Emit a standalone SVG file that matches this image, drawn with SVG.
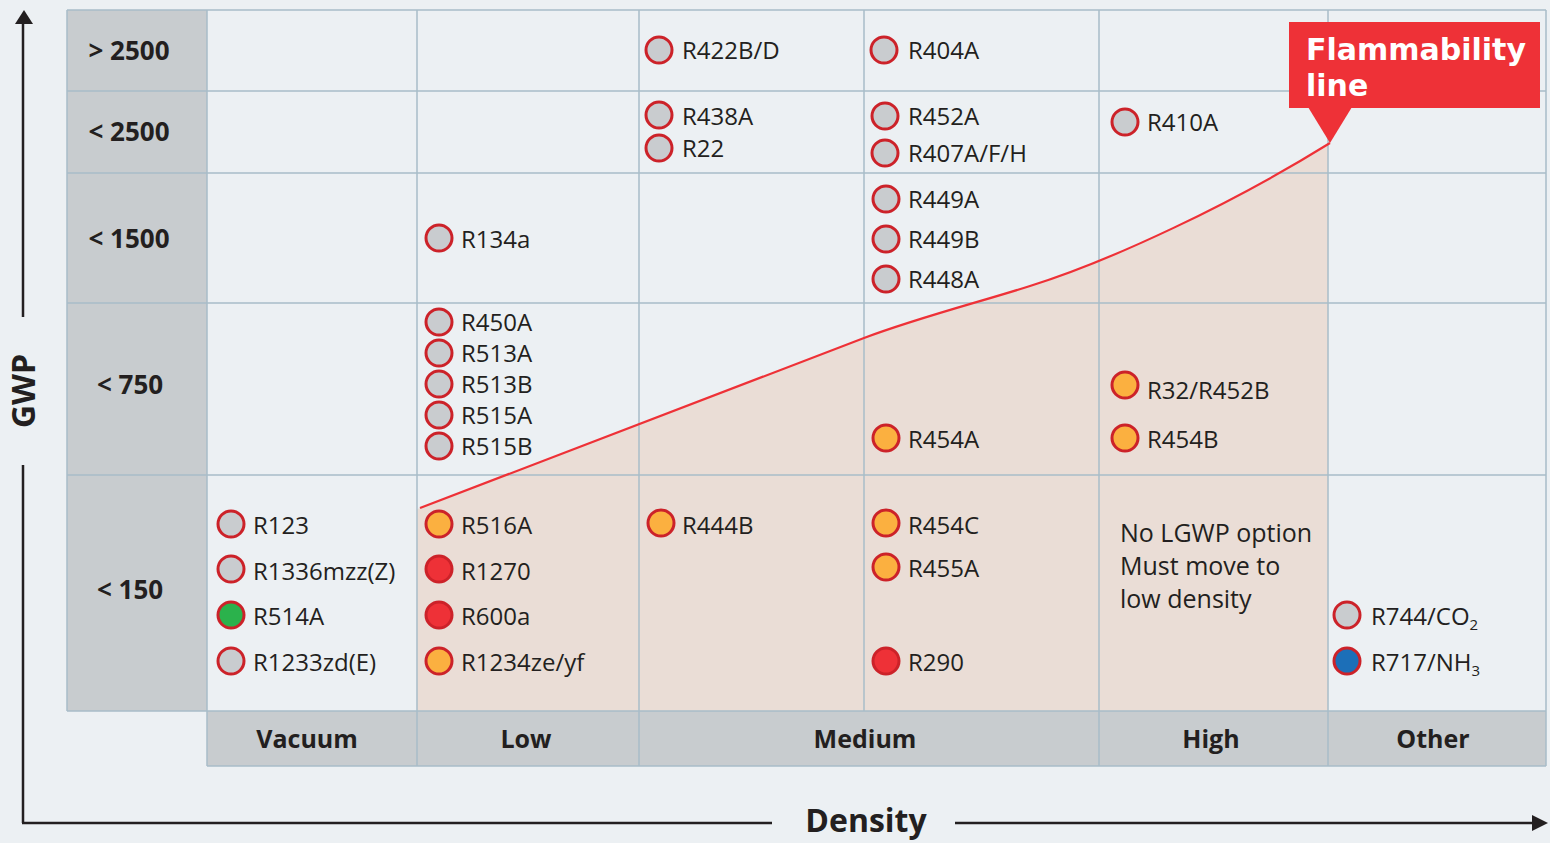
<svg xmlns="http://www.w3.org/2000/svg" width="1550" height="843" viewBox="0 0 1550 843">
<style>
.lbl{font-family:"Open Sans","Noto Sans","Liberation Sans",sans-serif;font-size:24px;fill:#231F20}
.hdr{font-family:"Open Sans","Noto Sans","Liberation Sans",sans-serif;font-size:25px;font-weight:bold;fill:#231F20}
.rowh{font-size:26px}
.ax{font-family:"Open Sans","Noto Sans","Liberation Sans",sans-serif;font-size:32px;font-weight:bold;fill:#231F20}
.note{font-family:"Open Sans","Noto Sans","Liberation Sans",sans-serif;font-size:25px;fill:#231F20}
.grid line{stroke:#A9BDC8;stroke-width:1.5}
.c{stroke:#CC2229;stroke-width:3}
.gray{fill:#C9CCCF}
.orange{fill:#FBB040}
.red{fill:#EE3137}
.green{fill:#2BB24C}
.blue{fill:#1C6FB8}
.axline{stroke:#231F20;stroke-width:2.5;fill:none}
</style>
<rect x="0" y="0" width="1550" height="843" fill="#ECF0F3"/>

<g id="headers">
<rect x="67" y="10" width="140" height="701" fill="#C8CCCF"/>
<rect x="207" y="711" width="1339" height="55" fill="#C8CCCF"/>
</g>

<g id="flammable-zone">
<path d="M417,509 L420,508 L864,338 C920,317 980,302 1030,286 C1110,261 1230,205 1328,144 L1328,711 L417,711 Z" fill="#EADDD6"/>
</g>

<g id="grid" class="grid">
<line x1="67" y1="10" x2="1546" y2="10"/>
<line x1="67" y1="91" x2="1546" y2="91"/>
<line x1="67" y1="173" x2="1546" y2="173"/>
<line x1="67" y1="303" x2="1546" y2="303"/>
<line x1="67" y1="475" x2="1546" y2="475"/>
<line x1="67" y1="711" x2="1546" y2="711"/>
<line x1="207" y1="766" x2="1546" y2="766"/>
<line x1="67" y1="10" x2="67" y2="711"/>
<line x1="207" y1="10" x2="207" y2="766"/>
<line x1="417" y1="10" x2="417" y2="766"/>
<line x1="639" y1="10" x2="639" y2="766"/>
<line x1="864" y1="10" x2="864" y2="711"/>
<line x1="1099" y1="10" x2="1099" y2="766"/>
<line x1="1328" y1="10" x2="1328" y2="766"/>
<line x1="1546" y1="10" x2="1546" y2="766"/>
</g>

<g id="row-labels">
<text class="hdr rowh" x="129" y="60" text-anchor="middle">&gt; 2500</text>
<text class="hdr rowh" x="129" y="141" text-anchor="middle">&lt; 2500</text>
<text class="hdr rowh" x="129" y="248" text-anchor="middle">&lt; 1500</text>
<text class="hdr rowh" x="130" y="394" text-anchor="middle">&lt; 750</text>
<text class="hdr rowh" x="130" y="599" text-anchor="middle">&lt; 150</text>
</g>

<g id="col-labels">
<text class="hdr" x="307" y="748" text-anchor="middle">Vacuum</text>
<text class="hdr" x="526" y="748" text-anchor="middle">Low</text>
<text class="hdr" x="865" y="748" text-anchor="middle">Medium</text>
<text class="hdr" x="1211" y="748" text-anchor="middle">High</text>
<text class="hdr" x="1433" y="748" text-anchor="middle">Other</text>
</g>

<g id="connectors">
<path id="flammability-line" d="M420,508 L864,338 C920,317 980,302 1030,286 C1110,261 1230,205 1330,143" fill="none" stroke="#EE3137" stroke-width="2.2"/>
</g>

<g id="flammability-label">
<rect x="1289" y="22" width="251" height="86" fill="#EE3137"/>
<polygon points="1308,107 1352,107 1330,143" fill="#EE3137"/>
<text x="1306" y="60" font-family="'DejaVu Sans','Liberation Sans',sans-serif" font-size="30" font-weight="bold" fill="#FFFFFF">Flammability</text>
<text x="1306" y="96" font-family="'DejaVu Sans','Liberation Sans',sans-serif" font-size="30" font-weight="bold" fill="#FFFFFF">line</text>
</g>

<g id="axes">
<line class="axline" x1="23" y1="823" x2="23" y2="465"/>
<line class="axline" x1="23" y1="317" x2="23" y2="22"/>
<polygon points="24,10 15,24 33,24" fill="#231F20"/>
<line class="axline" x1="22" y1="823" x2="772" y2="823"/>
<line class="axline" x1="955" y1="823" x2="1534" y2="823"/>
<polygon points="1548,823 1532,815 1532,831" fill="#231F20"/>
<text class="ax" x="866" y="832" text-anchor="middle">Density</text>
<text class="ax" x="35" y="391" text-anchor="middle" transform="rotate(-90 35 391)">GWP</text>
</g>

<g id="R422BD"><circle class="c gray" cx="659" cy="50" r="13"/><text class="lbl" x="682" y="59">R422B/D</text></g>
<g id="R404A"><circle class="c gray" cx="884" cy="50" r="13"/><text class="lbl" x="908" y="59">R404A</text></g>
<g id="R438A"><circle class="c gray" cx="659" cy="115" r="13"/><text class="lbl" x="682" y="125">R438A</text></g>
<g id="R22"><circle class="c gray" cx="659" cy="148" r="13"/><text class="lbl" x="682" y="157">R22</text></g>
<g id="R452A"><circle class="c gray" cx="885" cy="116" r="13"/><text class="lbl" x="908" y="125">R452A</text></g>
<g id="R407AFH"><circle class="c gray" cx="885" cy="153" r="13"/><text class="lbl" x="908" y="162">R407A/F/H</text></g>
<g id="R410A"><circle class="c gray" cx="1125" cy="122" r="13"/><text class="lbl" x="1147" y="131">R410A</text></g>

<g id="R134a"><circle class="c gray" cx="439" cy="238" r="13"/><text class="lbl" x="461" y="248">R134a</text></g>
<g id="R449A"><circle class="c gray" cx="886" cy="199" r="13"/><text class="lbl" x="908" y="208">R449A</text></g>
<g id="R449B"><circle class="c gray" cx="886" cy="239" r="13"/><text class="lbl" x="908" y="248">R449B</text></g>
<g id="R448A"><circle class="c gray" cx="886" cy="279" r="13"/><text class="lbl" x="908" y="288">R448A</text></g>

<g id="R450A"><circle class="c gray" cx="439" cy="322" r="13"/><text class="lbl" x="461" y="331">R450A</text></g>
<g id="R513A"><circle class="c gray" cx="439" cy="353" r="13"/><text class="lbl" x="461" y="362">R513A</text></g>
<g id="R513B"><circle class="c gray" cx="439" cy="384" r="13"/><text class="lbl" x="461" y="393">R513B</text></g>
<g id="R515A"><circle class="c gray" cx="439" cy="415" r="13"/><text class="lbl" x="461" y="424">R515A</text></g>
<g id="R515B"><circle class="c gray" cx="439" cy="446" r="13"/><text class="lbl" x="461" y="455">R515B</text></g>
<g id="R32R452B"><circle class="c orange" cx="1125" cy="385" r="13"/><text class="lbl" x="1147" y="399">R32/R452B</text></g>
<g id="R454A"><circle class="c orange" cx="886" cy="438" r="13"/><text class="lbl" x="908" y="448">R454A</text></g>
<g id="R454B"><circle class="c orange" cx="1125" cy="438" r="13"/><text class="lbl" x="1147" y="448">R454B</text></g>

<g id="R123"><circle class="c gray" cx="231" cy="524" r="13"/><text class="lbl" x="253" y="534">R123</text></g>
<g id="R1336mzzZ"><circle class="c gray" cx="231" cy="569" r="13"/><text class="lbl" x="253" y="580">R1336mzz(Z)</text></g>
<g id="R514A"><circle class="c green" cx="231" cy="615" r="13"/><text class="lbl" x="253" y="625">R514A</text></g>
<g id="R1233zdE"><circle class="c gray" cx="231" cy="661" r="13"/><text class="lbl" x="253" y="671">R1233zd(E)</text></g>
<g id="R516A"><circle class="c orange" cx="439" cy="524" r="13"/><text class="lbl" x="461" y="534">R516A</text></g>
<g id="R1270"><circle class="c red" cx="439" cy="569" r="13"/><text class="lbl" x="461" y="580">R1270</text></g>
<g id="R600a"><circle class="c red" cx="439" cy="615" r="13"/><text class="lbl" x="461" y="625">R600a</text></g>
<g id="R1234zeyf"><circle class="c orange" cx="439" cy="661" r="13"/><text class="lbl" x="461" y="671">R1234ze/yf</text></g>
<g id="R444B"><circle class="c orange" cx="661" cy="523" r="13"/><text class="lbl" x="682" y="534">R444B</text></g>
<g id="R454C"><circle class="c orange" cx="886" cy="523" r="13"/><text class="lbl" x="908" y="534">R454C</text></g>
<g id="R455A"><circle class="c orange" cx="886" cy="567" r="13"/><text class="lbl" x="908" y="577">R455A</text></g>
<g id="R290"><circle class="c red" cx="886" cy="661" r="13"/><text class="lbl" x="908" y="671">R290</text></g>
<g id="R744CO2"><circle class="c gray" cx="1347" cy="615" r="13"/><text class="lbl" x="1371" y="625">R744/CO<tspan dy="5" font-size="15">2</tspan></text></g>
<g id="R717NH3"><circle class="c blue" cx="1347" cy="661" r="13"/><text class="lbl" x="1371" y="671">R717/NH<tspan dy="5" font-size="15">3</tspan></text></g>

<g id="no-lgwp-note">
<text class="note" x="1120" y="542">No LGWP option</text>
<text class="note" x="1120" y="575">Must move to</text>
<text class="note" x="1120" y="608">low density</text>
</g>
</svg>
